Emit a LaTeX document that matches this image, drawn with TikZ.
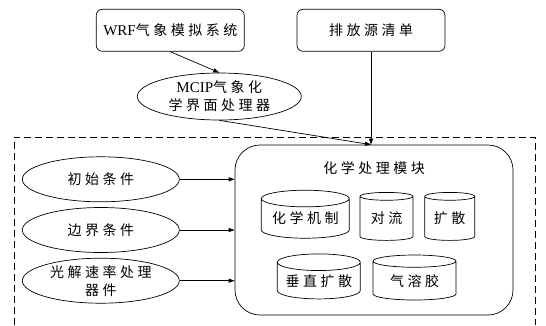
\documentclass[tikz,border=0pt]{standalone}
\usepackage{fontspec}
\setmainfont{Liberation Serif}
\newfontfamily\cjk[LetterSpace=25]{Noto Sans CJK SC}
\newcommand\latin[1]{{\rmfamily\fontsize{15}{18}\selectfont #1}}
\usetikzlibrary{positioning,shapes.geometric,arrows.meta}

\begin{document}
\begin{tikzpicture}[x=1pt,y=1pt,
    every node/.style={font=\cjk\fontsize{14}{18}\selectfont, line width=0.7pt},
    srcbox/.style={draw, rounded corners=6pt, minimum width=148pt, minimum height=42pt},
    inell/.style={draw, ellipse, minimum width=157pt, minimum height=45pt, inner sep=0pt, align=center},
    modbox/.style={draw, rounded corners=25pt, minimum width=278pt, minimum height=170pt},
    proc/.style={draw, cylinder, shape border rotate=90, aspect=0.25, inner sep=0pt},
    feed/.style={-{Triangle[length=6pt,width=4pt]}, line width=0.7pt}
]
\useasboundingbox (0,0) rectangle (546,-325);

\node[modbox] (chem) at (374,-230) {};
\node[below=13pt of chem.north] (title) {化学处理模块};

\node[proc, minimum height=48pt, minimum width=53pt, below=14pt of title, xshift=12.5pt] (conv) {对流};
\node[proc, minimum height=48pt, minimum width=88pt, left=10pt of conv] (mech) {化学机制};
\node[proc, minimum height=48pt, minimum width=50pt, right=11pt of conv] (diff) {扩散};
\node[proc, minimum height=45pt, minimum width=83pt, below=15pt of mech, xshift=13.5pt] (vdiff) {垂直扩散};
\node[proc, minimum height=45pt, minimum width=83pt, right=12pt of vdiff] (aero) {气溶胶};

\node[inell, left=55pt of chem] (bc) {边界条件};
\node[inell, above=5pt of bc] (ic) {初始条件};
\node[inell, below=5pt of bc] (photo) {光解速率处理\\器件};

\node[srcbox, above=93pt of chem, xshift=-3pt] (emis) {排放源清单};
\node[srcbox, left=52pt of emis] (wrf) {\latin{WRF}气象模拟系统};
\node[inell, minimum width=164pt, minimum height=47pt, below=21pt of wrf, xshift=49pt] (mcip) {\latin{MCIP}气象化\\学界面处理器};

\coordinate (entry) at (emis.south |- chem.north);
\draw[feed] (wrf.south) -- (mcip.north);
\draw[feed] (mcip.south) -- (entry);
\draw[feed] (emis.south) -- (entry);
\draw[feed] (ic) -- (ic -| chem.west);
\draw[feed] (bc) -- (bc -| chem.west);
\draw[feed] (photo) -- (photo -| chem.west);

% outer frame, open at the bottom
\draw[line width=0.7pt, dash pattern=on 7pt off 4pt] (14,-325) |- (535,-137) -- (535,-325);
\end{tikzpicture}
\end{document}
